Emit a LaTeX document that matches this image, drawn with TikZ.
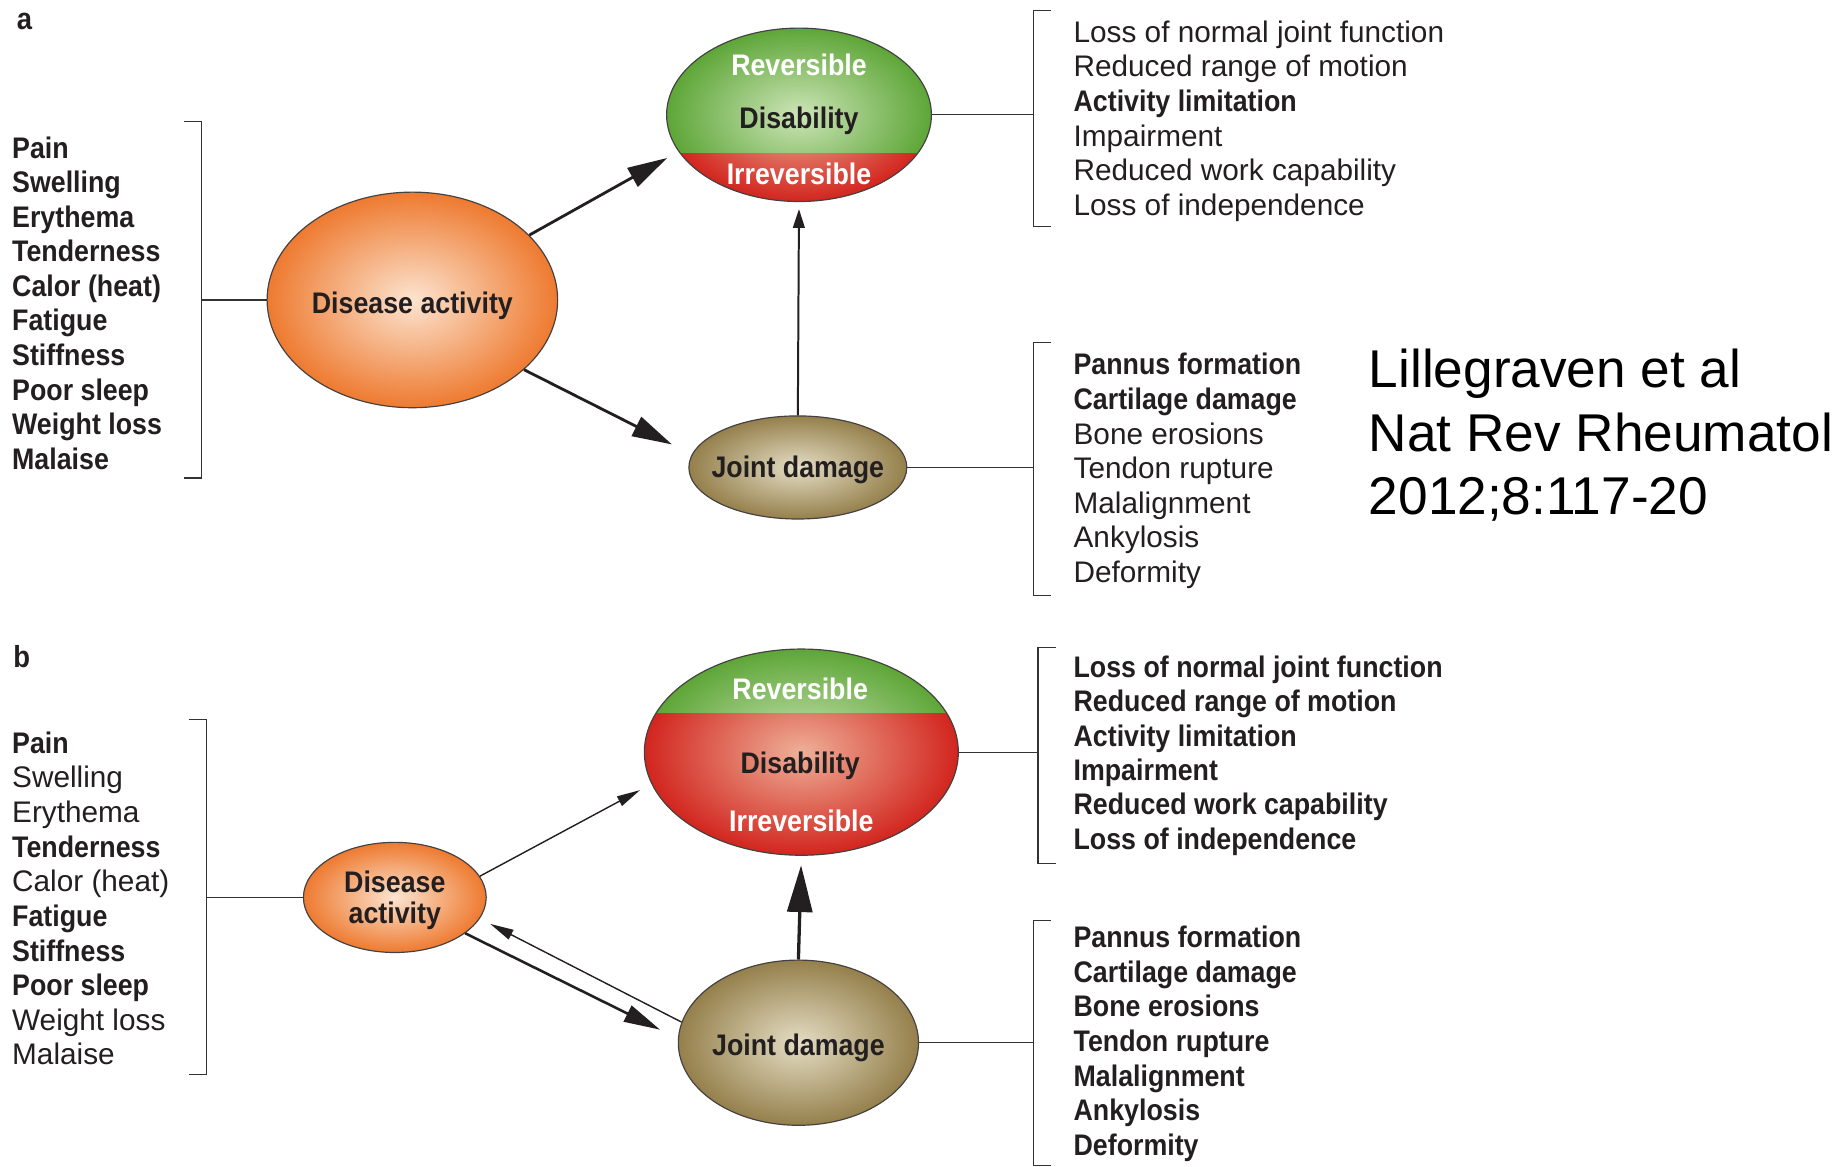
\documentclass[tikz,border=0pt]{standalone}
\usepackage{fontspec}
\setmainfont{Liberation Sans}[BoldFeatures={FakeStretch=0.9}]
\newfontfamily\citefont{Liberation Sans}
\usetikzlibrary{arrows.meta,shapes.geometric}

\definecolor{txt}{HTML}{231F20}
\definecolor{orin}{HTML}{FCE4D0}
\definecolor{orout}{HTML}{EE7A30}
\definecolor{grin}{HTML}{CDE5B8}
\definecolor{grout}{HTML}{5EA638}
\definecolor{rdin}{HTML}{EEB098}
\definecolor{rdout}{HTML}{D2251E}
\definecolor{olin}{HTML}{E4DDC4}
\definecolor{olout}{HTML}{95804C}
\definecolor{brkc}{HTML}{333333}

\pgfdeclareradialshading{orsh}{\pgfpoint{0bp}{0bp}}{color(0bp)=(orin); color(25bp)=(orout); color(50bp)=(orout)}
\pgfdeclareradialshading{grsh}{\pgfpoint{0bp}{0bp}}{color(0bp)=(grin); color(25bp)=(grout); color(50bp)=(grout)}
\pgfdeclareradialshading{rdsh}{\pgfpoint{0bp}{0bp}}{color(0bp)=(rdin); color(25bp)=(rdout); color(50bp)=(rdout)}
\pgfdeclareradialshading{olsh}{\pgfpoint{0bp}{0bp}}{color(0bp)=(olin); color(25bp)=(olout); color(50bp)=(olout)}

\begin{document}
\begin{tikzpicture}[x=0.5pt,y=-0.5pt,
  elli/.style={ellipse, draw=txt!85, line width=0.5pt, inner sep=0pt},
  etext/.style={font=\fontsize{12.7pt}{13pt}\selectfont\bfseries, text=txt, inner sep=0pt, align=center},
  wtext/.style={font=\fontsize{12.7pt}{13pt}\selectfont\bfseries, text=white, inner sep=0pt},
  lst/.style={anchor=base west, inner sep=0pt, font=\fontsize{12.7pt}{14.75pt}\selectfont, text=txt},
  brk/.style={draw=brkc, line width=0.5pt},
  thickA/.style={line width=1.2pt, draw=txt, -{Triangle[length=17pt,width=9pt]}},
  thinA/.style={line width=0.85pt, draw=txt, -{Triangle[length=8pt,width=5pt]}},
  thinB/.style={line width=0.6pt, draw=txt, -{Triangle[length=10pt,width=4.5pt]}},
  thickB/.style={line width=1.1pt, draw=txt, -{Triangle[length=15.5pt,width=7.5pt]}},
  vertB/.style={line width=1.4pt, draw=txt, -{Triangle[length=20pt,width=10.7pt]}}
]
\useasboundingbox (0,0) rectangle (1568,996);

% ---------------- panel a ----------------
\node[anchor=base west, inner sep=0pt, font=\fontsize{13pt}{14pt}\selectfont\bfseries, text=txt] (labA) at (14,25) {a};

\node[elli, shade, shading=orsh, minimum width=124pt, minimum height=92pt,
      label={[etext, yshift=-2.3pt]center:Disease activity}] (daA) at (352,256) {};

\node[elli, minimum width=113pt, minimum height=74pt,
  path picture={
    \shade[shading=grsh] (path picture bounding box.south west) rectangle (path picture bounding box.north east);
    \begin{scope}
      \clip ([yshift=-16.5pt]path picture bounding box.west) rectangle (path picture bounding box.south east);
      \shade[shading=rdsh] (path picture bounding box.south west) rectangle (path picture bounding box.north east);
    \end{scope}
  }] (disA) at (682,98) {};
\node[wtext] (revA) at (682,55) {Reversible};
\node[etext] (dtA) at (682,103.5) {Disability};
\node[wtext] (irrA) at (682,148) {Irreversible};

\node[elli, shade, shading=olsh, minimum width=93pt, minimum height=44pt,
      label={[etext, yshift=-1.2pt]center:Joint damage}] (jdA) at (681,399) {};

\draw[thickA, shorten >=5.5pt] (daA.29) -- (disA.197);
\draw[thickA, shorten >=9.5pt] (daA.-32) -- (jdA.173);
\draw[thinA, shorten >=3pt] (jdA.north) -- (disA.south);

% left bracket a
\coordinate (bLa1) at (157,104);
\coordinate (bLa2) at (172,104);
\coordinate (bLa3) at (172,408);
\coordinate (bLa4) at (157,408);
\coordinate (bLam) at (172,256);
\draw[brk] (bLa1) -- (bLa2) -- (bLa3) -- (bLa4);
\draw[brk] (daA.west) -- (daA.west -| bLam);

% right bracket a (disability)
\coordinate (bRa1) at (897,9);
\coordinate (bRa2) at (882,9);
\coordinate (bRa3) at (882,193);
\coordinate (bRa4) at (897,193);
\draw[brk] (bRa1) -- (bRa2) -- (bRa3) -- (bRa4);
\draw[brk] (disA.east) -- (disA.east -| bRa2);

% right bracket a (joint)
\coordinate (bJa1) at (897,292);
\coordinate (bJa2) at (882,292);
\coordinate (bJa3) at (882,508);
\coordinate (bJa4) at (897,508);
\draw[brk] (bJa1) -- (bJa2) -- (bJa3) -- (bJa4);
\draw[brk] (jdA.east) -- (jdA.east -| bJa2);

\foreach \t [count=\i] in {\textbf{Pain},\textbf{Swelling},\textbf{Erythema},\textbf{Tenderness},\textbf{Calor (heat)},\textbf{Fatigue},\textbf{Stiffness},\textbf{Poor sleep},\textbf{Weight loss},\textbf{Malaise}}
  \node[lst] (lA\i) at (10,{135+29.5*(\i-1)}) {\t};

\foreach \t [count=\i] in {Loss of normal joint function,Reduced range of motion,\textbf{Activity limitation},Impairment,Reduced work capability,Loss of independence}
  \node[lst] (rA\i) at (916,{36+29.6*(\i-1)}) {\t};

\foreach \t [count=\i] in {\textbf{Pannus formation},\textbf{Cartilage damage},Bone erosions,Tendon rupture,Malalignment,Ankylosis,Deformity}
  \node[lst] (jA\i) at (916,{320+29.5*(\i-1)}) {\t};

% citation
\node[anchor=base west, inner sep=0pt, font=\citefont\fontsize{22.7pt}{27pt}\selectfont, text=black] (cit1) at (1168,331) {Lillegraven et al};
\node[anchor=base west, inner sep=0pt, font=\citefont\fontsize{22.7pt}{27pt}\selectfont, text=black] (cit2) at (1168,385) {Nat Rev Rheumatol};
\node[anchor=base west, inner sep=0pt, font=\citefont\fontsize{22.7pt}{27pt}\selectfont, text=black] (cit3) at (1168,439) {2012;8:117-20};

% ---------------- panel b ----------------
\node[anchor=base west, inner sep=0pt, font=\fontsize{13pt}{14pt}\selectfont\bfseries, text=txt] (labB) at (11,570) {b};

\node[elli, shade, shading=orsh, minimum width=78pt, minimum height=47pt,
      label={[etext, yshift=-1.3pt]center:{Disease\\activity}}] (daB) at (337,766) {};

\node[elli, minimum width=134pt, minimum height=88pt,
  path picture={
    \shade[shading=grsh] (path picture bounding box.south west) rectangle (path picture bounding box.north east);
    \begin{scope}
      \clip ([yshift=16.5pt]path picture bounding box.west) rectangle (path picture bounding box.south east);
      \shade[shading=rdsh] (path picture bounding box.south west) rectangle (path picture bounding box.north east);
    \end{scope}
  }] (disB) at (684,642) {};
\node[wtext] (revB) at (683,588) {Reversible};
\node[etext] (dtB) at (683,653.5) {Disability};
\node[wtext] (irrB) at (684,701) {Irreversible};

\node[elli, shade, shading=olsh, minimum width=102.5pt, minimum height=70.5pt,
      label={[etext, yshift=-2.3pt]center:Joint damage}] (jdB) at (681.5,890) {};

\draw[thinB, shorten >=5.5pt] (daB.14) -- (disB.192);
\draw[thickB, shorten >=8.5pt] (daB.-27) -- (jdB.178);
\draw[thinB, shorten >=5pt] (jdB.170.6) -- (daB.-14);
\draw[vertB, shorten >=4pt] (jdB.north) -- (disB.south);

% left bracket b
\coordinate (bLb1) at (161,614);
\coordinate (bLb2) at (176,614);
\coordinate (bLb3) at (176,917);
\coordinate (bLb4) at (161,917);
\draw[brk] (bLb1) -- (bLb2) -- (bLb3) -- (bLb4);
\draw[brk] (daB.west) -- (daB.west -| bLb2);

% right bracket b (disability)
\coordinate (bRb1) at (901,553);
\coordinate (bRb2) at (886,553);
\coordinate (bRb3) at (886,737);
\coordinate (bRb4) at (901,737);
\draw[brk] (bRb1) -- (bRb2) -- (bRb3) -- (bRb4);
\draw[brk] (disB.east) -- (disB.east -| bRb2);

% right bracket b (joint)
\coordinate (bJb1) at (897,786);
\coordinate (bJb2) at (882,786);
\coordinate (bJb3) at (882,995);
\coordinate (bJb4) at (897,995);
\draw[brk] (bJb1) -- (bJb2) -- (bJb3) -- (bJb4);
\draw[brk] (jdB.east) -- (jdB.east -| bJb2);

\foreach \t [count=\i] in {\textbf{Pain},Swelling,Erythema,\textbf{Tenderness},Calor (heat),\textbf{Fatigue},\textbf{Stiffness},\textbf{Poor sleep},Weight loss,Malaise}
  \node[lst] (lB\i) at (10,{643+29.55*(\i-1)}) {\t};

\foreach \t [count=\i] in {Loss of normal joint function,Reduced range of motion,Activity limitation,Impairment,Reduced work capability,Loss of independence}
  \node[lst, font=\fontsize{12.7pt}{14.75pt}\selectfont\bfseries] (rB\i) at (916,{578+29.4*(\i-1)}) {\t};

\foreach \t [count=\i] in {Pannus formation,Cartilage damage,Bone erosions,Tendon rupture,Malalignment,Ankylosis,Deformity}
  \node[lst, font=\fontsize{12.7pt}{14.75pt}\selectfont\bfseries] (jB\i) at (916,{809+29.5*(\i-1)}) {\t};

\end{tikzpicture}
\end{document}
